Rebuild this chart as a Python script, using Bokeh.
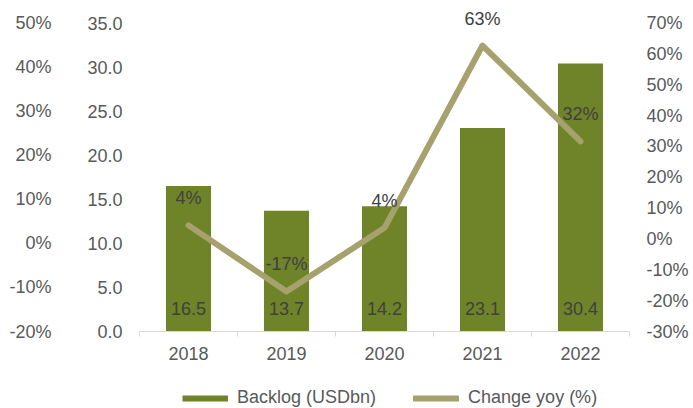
import numpy as np
from bokeh.plotting import figure
from bokeh.layouts import column
from bokeh.models import (Range1d, LinearAxis, FixedTicker, PrintfTickFormatter,
                          ColumnDataSource, Legend, LegendItem)
from bokeh.core.properties import value
from bokeh.embed import file_html
from bokeh.resources import INLINE

# ---- data ----
years = ["2018", "2019", "2020", "2021", "2022"]
backlog = [16.5, 13.7, 14.2, 23.1, 30.4]          # USDbn
change_yoy = [4.4, -17.0, 3.6, 62.7, 31.6]        # %
backlog_ticks = [0, 5, 10, 15, 20, 25, 30, 35]
left_pct_ticks = [-20, -10, 0, 10, 20, 30, 40, 50]
right_pct_ticks = [-30, -20, -10, 0, 10, 20, 30, 40, 50, 60, 70]
series_names = ["Backlog (USDbn)", "Change yoy (%)"]

# ---- styles ----
FONT = "Liberation Sans"
FS = "18px"
GREEN = "#6F8329"
KHAKI = "#A7A16E"
AXIS_TXT = "#595959"
DATA_TXT = "#404040"
AXIS_LINE = "#D9D9D9"

xs = list(range(1, len(years) + 1))
source = ColumnDataSource(dict(
    x=xs,
    backlog=backlog,
    change=change_yoy,
    backlog_label=[f"{v:.1f}" for v in backlog],
    change_label=[f"{v:.0f}%" for v in change_yoy],
))

p = figure(width=693, height=375, output_backend="svg", toolbar_location=None,
           x_range=Range1d(0.5, len(years) + 0.5), y_range=Range1d(0, 37.553),
           min_border_left=139, min_border_right=64, min_border_top=0,
           min_border_bottom=44)
p.extra_y_ranges = {"pct_left": Range1d(-20, 55.105), "pct_right": Range1d(-30, 77.293)}
p.xgrid.visible = False
p.ygrid.visible = False
p.outline_line_color = None
p.background_fill_color = "white"
p.border_fill_color = "white"


def style_axis(ax, standoff):
    ax.axis_line_color = None
    ax.major_tick_line_color = None
    ax.minor_tick_line_color = None
    ax.major_tick_in = 0
    ax.major_tick_out = 0
    ax.minor_tick_in = 0
    ax.minor_tick_out = 0
    ax.major_label_standoff = standoff
    ax.major_label_text_font = FONT
    ax.major_label_text_font_size = FS
    ax.major_label_text_color = AXIS_TXT


# inner left axis (backlog)
yax = p.yaxis[0]
yax.ticker = FixedTicker(ticks=backlog_ticks)
yax.formatter = PrintfTickFormatter(format="%.1f")
style_axis(yax, 17)

# outer left axis (percent)
left_pct = LinearAxis(y_range_name="pct_left", ticker=FixedTicker(ticks=left_pct_ticks),
                      formatter=PrintfTickFormatter(format="%d%%"))
style_axis(left_pct, 33)
p.add_layout(left_pct, "left")

# right axis (percent)
right_pct = LinearAxis(y_range_name="pct_right", ticker=FixedTicker(ticks=right_pct_ticks),
                       formatter=PrintfTickFormatter(format="%d%%"))
style_axis(right_pct, 17)
p.add_layout(right_pct, "right")

# x axis
xax = p.xaxis[0]
xax.ticker = FixedTicker(ticks=xs, minor_ticks=[x - 0.5 for x in xs] + [xs[-1] + 0.5])
xax.major_label_overrides = {x: y for x, y in zip(xs, years)}
xax.axis_line_color = AXIS_LINE
xax.axis_line_width = 1
xax.major_tick_line_color = None
xax.major_tick_in = 0
xax.major_tick_out = 0
xax.minor_tick_line_color = AXIS_LINE
xax.minor_tick_in = 0
xax.minor_tick_out = 5
xax.major_label_standoff = 10
xax.major_label_text_font = FONT
xax.major_label_text_font_size = FS
xax.major_label_text_color = AXIS_TXT

# bars
p.vbar(x="x", top="backlog", width=0.46, source=source,
       fill_color=GREEN, line_color=None)

# line
p.line(x="x", y="change", y_range_name="pct_right", source=source,
       line_width=6, line_color=KHAKI, line_cap="round", line_join="round")

# labels
p.text(x="x", y=0, text="backlog_label", source=source, y_offset=-23,
       text_align="center", text_baseline="middle",
       text_font=value(FONT), text_font_size=FS, text_color=DATA_TXT)
p.text(x="x", y="change", y_range_name="pct_right", text="change_label", source=source,
       y_offset=-27, text_align="center", text_baseline="middle",
       text_font=value(FONT), text_font_size=FS, text_color=DATA_TXT)

# ---- legend strip below the chart (frame aligned with the chart's frame) ----
lg = figure(width=693, height=33, output_backend="svg", toolbar_location=None,
            x_range=Range1d(0, 1), y_range=Range1d(0, 1),
            x_axis_type=None, y_axis_type=None,
            min_border_left=0, min_border_right=0, min_border_top=0, min_border_bottom=0)
lg.xgrid.visible = False
lg.ygrid.visible = False
lg.outline_line_color = None
lg.background_fill_color = "white"
lg.border_fill_color = "white"

# legend-only swatches (a single NaN point: nothing is drawn in the strip itself)
sw_bar = lg.line(x=[np.nan], y=[np.nan], line_width=6, line_color=GREEN, line_cap="butt")
sw_line = lg.line(x=[np.nan], y=[np.nan], line_width=6, line_color=KHAKI, line_cap="round")

legend = Legend(items=[LegendItem(label=series_names[0], renderers=[sw_bar]),
                       LegendItem(label=series_names[1], renderers=[sw_line])],
                location=(43, 0), orientation="horizontal",
                glyph_width=46, glyph_height=20, label_height=20,
                label_standoff=9, spacing=37, padding=0, margin=0,
                border_line_color=None, background_fill_alpha=0,
                label_text_font=FONT, label_text_font_size=FS,
                label_text_color=AXIS_TXT)
lg.add_layout(legend)

layout = column(p, lg, spacing=0)
open("out.html", "w").write(file_html(layout, INLINE))
